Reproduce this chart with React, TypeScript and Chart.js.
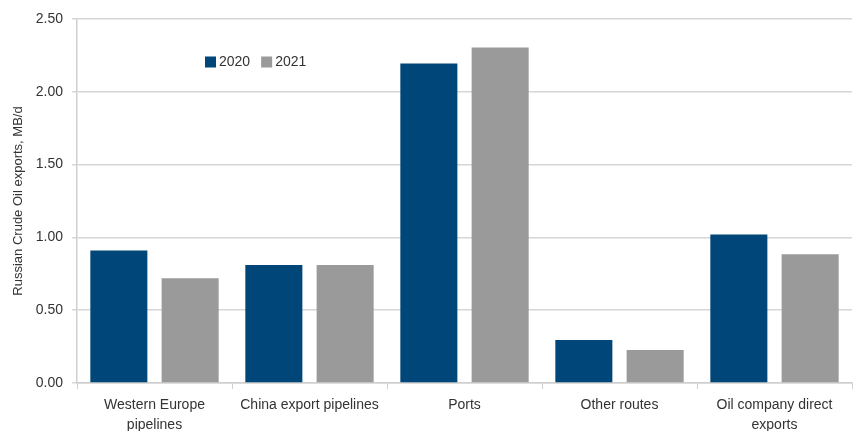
import React, { useEffect, useRef } from "react";
import { Chart, registerables } from "chart.js";

Chart.register(...registerables);

const categories: (string | string[])[] = [
  ["Western Europe", "pipelines"],
  "China export pipelines",
  "Ports",
  "Other routes",
  ["Oil company direct", "exports"],
];
const values2020 = [0.91, 0.81, 2.195, 0.295, 1.02];
const values2021 = [0.72, 0.81, 2.305, 0.226, 0.885];
const seriesLabels = ["2020", "2021"];
const yTitle = "Russian Crude Oil exports, MB/d";

const BLUE = "#004678";
const GRAY = "#9a9a9a";
const TEXT = "#333333";
const FONT = "'Liberation Sans', Arial, sans-serif";

const legendPlugin = {
  id: "customLegend",
  afterDraw(chart: any) {
    const ctx = chart.ctx;
    ctx.save();
    ctx.font = `14px ${FONT}`;
    ctx.textBaseline = "middle";
    ctx.textAlign = "left";
    let x = 205;
    const y = 62;
    chart.data.datasets.forEach((ds: any) => {
      ctx.fillStyle = ds.backgroundColor;
      ctx.fillRect(x, y - 5.5, 11, 11);
      ctx.fillStyle = TEXT;
      ctx.fillText(ds.label, x + 14, y);
      x += 14 + ctx.measureText(ds.label).width + 11;
    });
    ctx.restore();
  },
};

export default function App() {
  const ref = useRef<HTMLCanvasElement | null>(null);
  useEffect(() => {
    document.body.style.margin = "0";
    const chart = new Chart(ref.current!, {
      type: "bar",
      data: {
        labels: categories,
        datasets: [
          { label: seriesLabels[0], data: values2020, backgroundColor: BLUE, categoryPercentage: 0.92, barPercentage: 0.8 },
          { label: seriesLabels[1], data: values2021, backgroundColor: GRAY, categoryPercentage: 0.92, barPercentage: 0.8 },
        ],
      },
      options: {
        animation: false,
        responsive: false,
        maintainAspectRatio: false,
        layout: { padding: { top: 19, right: 5, left: 0, bottom: 0 } },
        plugins: { legend: { display: false }, tooltip: { enabled: false } },
        scales: {
          x: {
            grid: { display: true, drawOnChartArea: false, drawTicks: true, tickLength: 6, color: "#cfcfcf", offset: true },
            border: { display: true, color: "#cfcfcf", width: 1.5 },
            ticks: { color: TEXT, font: { family: FONT, size: 14, lineHeight: 1.45 }, padding: 6, maxRotation: 0, autoSkip: false },
            afterFit: (s: any) => { s.height = 48; },
          },
          y: {
            min: 0,
            max: 2.5,
            ticks: { stepSize: 0.5, color: TEXT, font: { family: FONT, size: 14 }, padding: 9, callback: (v: any) => Number(v).toFixed(2) },
            grid: { color: "#d6d6d6", lineWidth: 1.5, tickLength: 5 },
            border: { display: true, color: "#cfcfcf", width: 1.5 },
            title: { display: true, text: yTitle, color: TEXT, font: { family: FONT, size: 13 }, padding: { top: 11, bottom: 0 } },
            afterFit: (s: any) => { s.width = 77; },
          },
        },
      },
      plugins: [legendPlugin],
    });
    return () => chart.destroy();
  }, []);
  return (
    <div style={{ position: "fixed", left: 0, top: 0, width: 857, height: 431, background: "#fff" }}>
      <canvas ref={ref} width={857} height={431} style={{ width: 857, height: 431 }} />
    </div>
  );
}
